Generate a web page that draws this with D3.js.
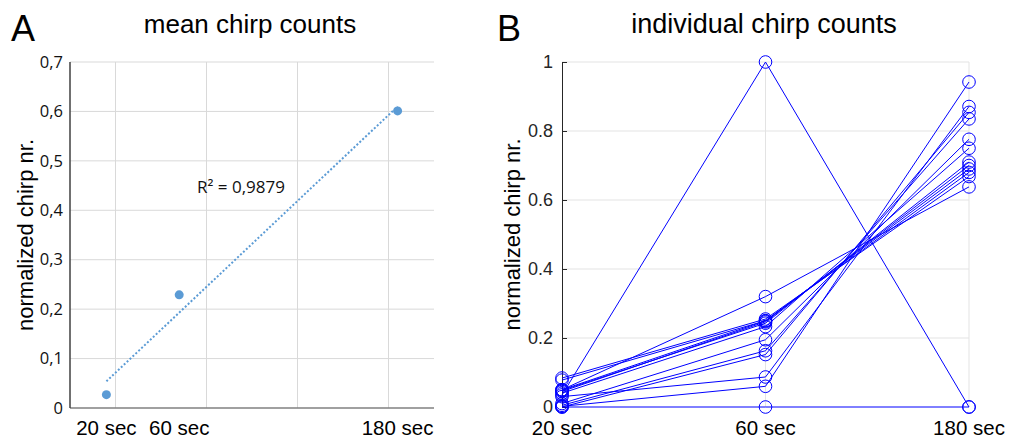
<!DOCTYPE html>
<html>
<head>
<meta charset="utf-8">
<script src="https://cdn.jsdelivr.net/npm/d3@7"></script>
<style>
  body { margin: 0; background: #fff; }
  svg { display: block; }
</style>
</head>
<body>
<div id="chart"></div>
<script>
// panel A: mean chirp counts
var meanTimes = [20, 60, 180];
var meanLabels = ["20 sec", "60 sec", "180 sec"];
var meanCounts = [0.027, 0.229, 0.601];
var rSquaredText = "R\u00b2 = 0,9879";
var meanYTicks = [0, 0.1, 0.2, 0.3, 0.4, 0.5, 0.6, 0.7];
var meanXGrid = [25, 75, 125, 175];

// panel B: individual chirp counts, one entry per fish
var conditions = ["20 sec", "60 sec", "180 sec"];
var fish20 = [0.035, 0, 0.05, 0.084, 0.078, 0.05, 0.045, 0.048, 0.04, 0.01, 0.005, 0, 0.03, 0.002];
var fish60 = [1.0, 0, 0.32, 0.255, 0.25, 0.25, 0.247, 0.243, 0.233, 0.195, 0.163, 0.152, 0.087, 0.06];
var fish180 = [0, 0, 0.638, 0.668, 0.68, 0.69, 0.70, 0.71, 0.75, 0.776, 0.835, 0.854, 0.871, 0.942];
var indivYTicks = [0, 0.2, 0.4, 0.6, 0.8, 1];

var width = 1016,
	height = 438;

var svg = d3.select("#chart").append("svg")
	.attr("width", width)
	.attr("height", height);

var sans = "'Liberation Sans', Arial, sans-serif";
var excelFont = "'Open Sans', 'Noto Sans', sans-serif";

//---------------- panel A ----------------
var xA = d3.scaleLinear().domain([0, 200]).range([70, 434]);
var yA = d3.scaleLinear().domain([0, 0.7]).range([408, 62]);

var gA = svg.append("g");

// grid
gA.selectAll(".hgrid").data(meanYTicks.slice(1)).enter()
	.append("line")
	.attr("x1", xA(0)).attr("x2", xA(200))
	.attr("y1", function(d){ return yA(d); })
	.attr("y2", function(d){ return yA(d); })
	.attr("stroke", "#d9d9d9").attr("stroke-width", 1);
gA.selectAll(".vgrid").data(meanXGrid).enter()
	.append("line")
	.attr("x1", function(d){ return xA(d); })
	.attr("x2", function(d){ return xA(d); })
	.attr("y1", yA(0.7)).attr("y2", yA(0))
	.attr("stroke", "#d9d9d9").attr("stroke-width", 1);

// y axis (labels only, excel style)
var commaFmt = d3.formatLocale({decimal: ",", thousands: ".", grouping: [3], currency: ["", ""]}).format(".1f");
var axA = gA.append("g")
	.attr("transform", "translate(" + xA(0) + ",0)")
	.call(d3.axisLeft(yA).tickValues(meanYTicks).tickSize(0).tickPadding(7)
		.tickFormat(function(d){ return d === 0 ? "0" : commaFmt(d); }));
axA.select(".domain").remove();
axA.selectAll("text")
	.attr("font-family", excelFont).attr("font-size", 16.5).attr("fill", "#111");

// axis lines
gA.append("line")
	.attr("x1", xA(0)).attr("x2", xA(200))
	.attr("y1", yA(0)).attr("y2", yA(0))
	.attr("stroke", "#808080").attr("stroke-width", 1.5);
gA.append("line")
	.attr("x1", xA(0)).attr("x2", xA(0))
	.attr("y1", yA(0.7)).attr("y2", yA(0))
	.attr("stroke", "#404040").attr("stroke-width", 1.5);

// x labels
gA.selectAll(".xlab").data(meanTimes).enter()
	.append("text")
	.attr("x", function(d){ return xA(d); })
	.attr("y", 435)
	.attr("text-anchor", "middle")
	.attr("font-family", sans).attr("font-size", 20.5).attr("fill", "#000")
	.text(function(d, i){ return meanLabels[i]; });

// linear trendline (least squares over the means)
var mx = d3.mean(meanTimes), my = d3.mean(meanCounts);
var sxy = d3.sum(meanTimes, function(t, i){ return (t - mx) * (meanCounts[i] - my); });
var sxx = d3.sum(meanTimes, function(t){ return (t - mx) * (t - mx); });
var slope = sxy / sxx, icpt = my - slope * mx;
var tEnds = [d3.min(meanTimes), d3.max(meanTimes)];
gA.append("line")
	.attr("x1", xA(tEnds[0])).attr("y1", yA(icpt + slope * tEnds[0]))
	.attr("x2", xA(tEnds[1])).attr("y2", yA(icpt + slope * tEnds[1]))
	.attr("stroke", "#5b9bd5").attr("stroke-width", 2)
	.attr("stroke-dasharray", "2,2");

gA.selectAll(".pt").data(meanCounts).enter()
	.append("circle")
	.attr("cx", function(d, i){ return xA(meanTimes[i]); })
	.attr("cy", function(d){ return yA(d); })
	.attr("r", 4.5)
	.attr("fill", "#5b9bd5");

gA.append("text")
	.attr("x", 241).attr("y", 193)
	.attr("text-anchor", "middle")
	.attr("font-family", excelFont).attr("font-size", 17).attr("fill", "#111")
	.text(rSquaredText);

gA.append("text")
	.attr("transform", "translate(33," + ((yA(0) + yA(0.7)) / 2) + ") rotate(-90)")
	.attr("text-anchor", "middle")
	.attr("font-family", sans).attr("font-size", 22).attr("fill", "#000")
	.text("normalized chirp nr.");

gA.append("text")
	.attr("x", 250).attr("y", 33)
	.attr("text-anchor", "middle")
	.attr("font-family", sans).attr("font-size", 26).attr("fill", "#000")
	.text("mean chirp counts");

svg.append("text")
	.attr("x", 11).attr("y", 41)
	.attr("font-family", sans).attr("font-size", 36).attr("fill", "#000")
	.text("A");

//---------------- panel B ----------------
var xB = d3.scalePoint().domain(conditions).range([562, 969]);
var yB = d3.scaleLinear().domain([0, 1]).range([407, 62]);

var gB = svg.append("g");

gB.selectAll(".hgrid").data(indivYTicks.slice(1)).enter()
	.append("line")
	.attr("x1", xB(conditions[0])).attr("x2", xB(conditions[2]))
	.attr("y1", function(d){ return yB(d); })
	.attr("y2", function(d){ return yB(d); })
	.attr("stroke", "#e3e3e3").attr("stroke-width", 1);
gB.selectAll(".vgrid").data(conditions.slice(1)).enter()
	.append("line")
	.attr("x1", function(d){ return xB(d); })
	.attr("x2", function(d){ return xB(d); })
	.attr("y1", yB(1)).attr("y2", yB(0))
	.attr("stroke", "#e3e3e3").attr("stroke-width", 1);

var axB = gB.append("g")
	.attr("transform", "translate(" + xB(conditions[0]) + ",0)")
	.call(d3.axisLeft(yB).tickValues(indivYTicks).tickSizeInner(-5).tickSizeOuter(0).tickPadding(9)
		.tickFormat(d3.format("~g")));
axB.select(".domain").attr("stroke", "#262626");
axB.selectAll(".tick line").attr("stroke", "#262626");
axB.selectAll("text")
	.attr("font-family", sans).attr("font-size", 18).attr("fill", "#262626");

var fish = fish20.map(function(v, i){ return [v, fish60[i], fish180[i]]; });
var line = d3.line()
	.x(function(d, i){ return xB(conditions[i]); })
	.y(function(d){ return yB(d); });

gB.selectAll(".fish").data(fish).enter()
	.append("path")
	.attr("d", line)
	.attr("fill", "none")
	.attr("stroke", "#0000ff").attr("stroke-width", 1);

fish.forEach(function(f){
	gB.selectAll(null).data(f).enter()
		.append("circle")
		.attr("cx", function(d, i){ return xB(conditions[i]); })
		.attr("cy", function(d){ return yB(d); })
		.attr("r", 6.3)
		.attr("fill", "none")
		.attr("stroke", "#0000ff").attr("stroke-width", 1);
});

gB.selectAll(".xlab").data(conditions).enter()
	.append("text")
	.attr("x", function(d){ return xB(d); })
	.attr("y", 435)
	.attr("text-anchor", "middle")
	.attr("font-family", sans).attr("font-size", 20.5).attr("fill", "#000")
	.text(function(d){ return d; });

gB.append("text")
	.attr("transform", "translate(520," + ((yB(0) + yB(1)) / 2) + ") rotate(-90)")
	.attr("text-anchor", "middle")
	.attr("font-family", sans).attr("font-size", 22).attr("fill", "#000")
	.text("normalized chirp nr.");

gB.append("text")
	.attr("x", 764).attr("y", 33)
	.attr("text-anchor", "middle")
	.attr("font-family", sans).attr("font-size", 27).attr("fill", "#000")
	.text("individual chirp counts");

svg.append("text")
	.attr("x", 497).attr("y", 41)
	.attr("font-family", sans).attr("font-size", 36).attr("fill", "#000")
	.text("B");
</script>
</body>
</html>
